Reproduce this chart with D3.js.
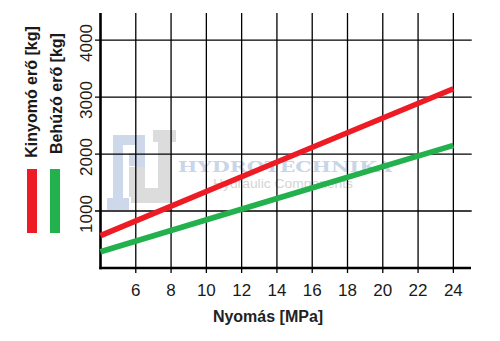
<!DOCTYPE html>
<html>
<head>
<meta charset="utf-8">
<script src="https://cdn.jsdelivr.net/npm/d3@7"></script>
<style>
  html, body { margin: 0; padding: 0; background: #fff; }
  svg { display: block; }
  text { font-family: "Liberation Sans", Arial, sans-serif; }
</style>
</head>
<body>
<svg id="chart" width="500" height="341"></svg>
<script>
// Pressure (MPa) vs. cylinder force (kg)
const pressure = [4, 14, 24];
const pushForce = [567, 1860, 3146];   // Kinyomó erő
const pullForce = [286, 1220, 2151];   // Behúzó erő
const xTicks = [6, 8, 10, 12, 14, 16, 18, 20, 22, 24];
const yTicks = [1000, 2000, 3000, 4000];

const seriesNames = ["Kinyomó erő [kg]", "Behúzó erő [kg]"];
const seriesColors = ["#ed1c24", "#22b14c"];
const xTitle = "Nyomás [MPa]";

const svg = d3.select("#chart");

const x = d3.scaleLinear().domain([4, 25]).range([100.5, 471]);
const y = d3.scaleLinear().domain([0, 4475]).range([268, 13]);

// Watermark logo (drawn beneath the grid)
const wm = svg.append("g").attr("class", "watermark");
const blue = "#cdd8ea", grey = "#dcdcdc";
[
  [113, 135, 10, 66, blue], [107, 198, 22, 12, blue],
  [113, 135, 32, 10, blue], [136, 135, 9, 32, blue],
  [129, 153, 16, 13, blue]
].forEach(r => wm.append("rect").attr("x", r[0]).attr("y", r[1])
  .attr("width", r[2]).attr("height", r[3]).attr("fill", r[4]));
[
  [153, 130, 23, 12, grey], [158, 130, 14, 70, grey],
  [131, 188, 41, 15, grey], [129, 167, 16, 30, grey]
].forEach(r => wm.append("rect").attr("x", r[0]).attr("y", r[1])
  .attr("width", r[2]).attr("height", r[3]).attr("fill", r[4]));
wm.append("text").attr("x", 178).attr("y", 171.8)
  .attr("textLength", 214).attr("lengthAdjust", "spacingAndGlyphs")
  .style("font-family", "'DejaVu Serif', serif").style("font-weight", "bold")
  .style("font-size", "14px").attr("fill", "#c9d5e8").text("HYDROTECHNIKA");
wm.append("text").attr("x", 213).attr("y", 188)
  .attr("textLength", 140).attr("lengthAdjust", "spacingAndGlyphs")
  .style("font-size", "13px").attr("fill", "#d4d4d4").text("Hydraulic Components");

// Grid lines with small tick overhangs
const grid = svg.append("g").attr("stroke", "#000").attr("stroke-width", 1.3);
grid.selectAll("line.h").data(yTicks).join("line").attr("class", "h")
  .attr("x1", 95).attr("x2", 471.7)
  .attr("y1", d => y(d)).attr("y2", d => y(d));
grid.selectAll("line.v").data(xTicks).join("line").attr("class", "v")
  .attr("x1", d => x(d)).attr("x2", d => x(d))
  .attr("y1", 13).attr("y2", 273);

// Axis lines
const axes = svg.append("g").attr("stroke", "#000").attr("stroke-width", 2.6);
axes.append("line").attr("x1", x(4)).attr("x2", x(4)).attr("y1", 13).attr("y2", 269.3);
axes.append("line").attr("x1", x(4) - 1.3).attr("x2", x(25)).attr("y1", y(0)).attr("y2", y(0));

// Tick labels
svg.append("g").selectAll("text").data(xTicks).join("text")
  .attr("x", d => x(d)).attr("y", 296)
  .attr("text-anchor", "middle").style("font-size", "17px").attr("fill", "#1a1a1a")
  .text(d => d);
svg.append("g").selectAll("text").data(yTicks).join("text")
  .attr("transform", d => `translate(92,${y(d) + 3}) rotate(-90)`)
  .attr("text-anchor", "middle").style("font-size", "17px").attr("fill", "#1a1a1a")
  .text(d => d);

// Force lines
const line = d3.line().x(d => x(d[0])).y(d => y(d[1]));
[pushForce, pullForce].forEach((vals, i) => {
  svg.append("path")
    .datum(pressure.map((p, j) => [p, vals[j]]))
    .attr("d", line).attr("fill", "none")
    .attr("stroke", seriesColors[i]).attr("stroke-width", 5.6);
});

// Legend: vertical labels with colour bars
const legendX = [36.5, 61.5];
const legendY = [92, 93.5];
const barX = [27, 50];
seriesNames.forEach((name, i) => {
  svg.append("text")
    .attr("transform", `translate(${legendX[i]},${legendY[i]}) rotate(-90)`)
    .attr("text-anchor", "middle").style("font-size", "16px").style("font-weight", "bold")
    .attr("fill", "#1a1a1a").text(name);
  svg.append("rect").attr("x", barX[i]).attr("y", 169).attr("width", 10).attr("height", 64)
    .attr("fill", seriesColors[i]);
});

// X axis title
svg.append("text").attr("x", 268).attr("y", 322)
  .attr("text-anchor", "middle").style("font-size", "16px").style("font-weight", "bold")
  .attr("fill", "#222").text(xTitle);
</script>
</body>
</html>
